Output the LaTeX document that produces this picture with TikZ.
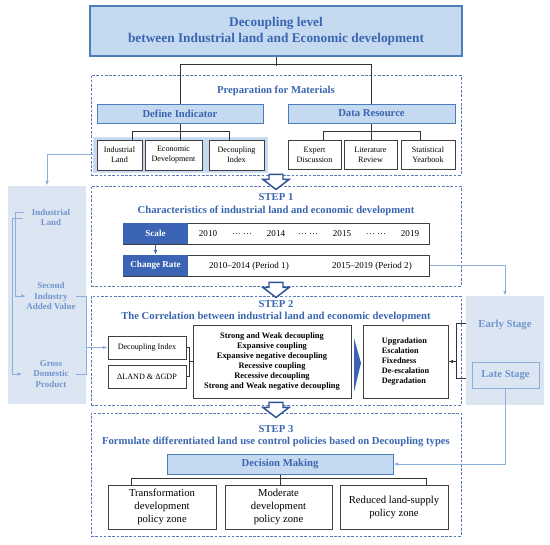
\documentclass[tikz,border=0pt]{standalone}
\usepackage{fontspec}
\setmainfont{Liberation Serif}
\usetikzlibrary{calc,arrows.meta}

\definecolor{titleFill}{RGB}{197,217,241}
\definecolor{titleLine}{RGB}{74,126,187}
\definecolor{headBlue}{RGB}{58,102,176}
\definecolor{barBlue}{RGB}{59,101,180}
\definecolor{arrowBlue}{RGB}{47,84,150}
\definecolor{panelFill}{RGB}{220,230,242}
\definecolor{panelText}{RGB}{112,148,206}
\definecolor{linkBlue}{RGB}{141,175,222}
\definecolor{dashBlue}{RGB}{90,124,182}

\tikzset{every picture/.style={line width=0.75pt}}
\tikzset{
  sz/.style 2 args={minimum width=#1*0.75pt, minimum height=#2*0.75pt},
  stepbox/.style={draw=dashBlue, dash pattern=on 2pt off 1.2pt, line width=0.7pt, inner sep=0pt},
  headbox/.style={draw=titleLine, fill=titleFill, text=headBlue, font=\bfseries\fontsize{8}{9.6}\selectfont, inner sep=0pt},
  itembox/.style={draw=black!75, fill=white, inner sep=0pt, align=center, font=\fontsize{6.1}{7.5}\selectfont},
  headtxt/.style={text=headBlue, font=\bfseries\fontsize{8}{9.6}\selectfont, inner sep=0pt},
  bartag/.style={fill=barBlue, text=white, font=\bfseries\fontsize{6.8}{8}\selectfont, inner sep=0pt},
  yeartxt/.style={font=\fontsize{6.8}{8}\selectfont, inner sep=0pt},
  paneltxt/.style={text=panelText, font=\bfseries\fontsize{6.7}{8}\selectfont, align=center, inner sep=0pt},
  link/.style={draw=linkBlue, line width=0.6pt},
  fork/.style={draw=black!80, line width=0.75pt},
  tip/.style={-{Latex[length=3.5pt,width=2.8pt]}},
  hollow arrow/.pic={
    \draw[draw=arrowBlue, fill=white, line width=1.1pt] (-7,1) -- (7,1) -- (7,-4) -- (13,-4) -- (0,-14) -- (-13,-4) -- (-7,-4) -- cycle;
  }
}

\begin{document}
\begin{tikzpicture}[x=0.75pt,y=0.75pt,yscale=-1,xscale=1]
\useasboundingbox (0,0) rectangle (550,544);

%Side panels
\node[fill=panelFill, sz={78}{218}, inner sep=0pt] (lpanel) at (47,295) {};
\node[fill=panelFill, sz={78}{109}, inner sep=0pt] (rpanel) at (505,350.5) {};

%Title
\node[draw=titleLine, fill=titleFill, line width=1pt, sz={372}{50}, inner sep=0pt, align=center,
      text=headBlue, font=\bfseries\fontsize{10}{12}\selectfont] (title) at (276,31)
      {Decoupling level\\between Industrial land and Economic development};

%Dashed step frames
\node[stepbox, sz={370}{100}] (prep) at (276,125) {};
\node[stepbox, sz={370}{100}] (step1) at (276,236) {};
\node[stepbox, sz={370}{109}] (step2) at (276,350.5) {};
\node[stepbox, sz={370}{123}] (step3) at (276,474.5) {};

%Hollow arrows between steps
\pic at (prep.south) {hollow arrow};
\pic at ($(step1.south)+(0,-3)$) {hollow arrow};
\pic at ($(step2.south)+(0,-2)$) {hollow arrow};

% Preparation for Materials
\node[headtxt] (preplab) at (276,91) {Preparation for Materials};
\node[headbox, sz={166}{19}] (defind) at (180,113.5) {Define Indicator};
\node[headbox, sz={167}{19}] (datares) at (371.5,113.5) {Data Resource};

\node[fill=titleFill, draw=titleFill!80!white, sz={174}{35}, inner sep=0pt] (hl) at (180,154.5) {};
\node[itembox, sz={45}{30}] (il) at (119.5,155) {Industrial\\Land};
\node[itembox, sz={57}{30}] (ed) at (173.5,155) {Economic\\Development};
\node[itembox, sz={55}{30}] (dix) at (236.5,155) {Decoupling\\Index};

\node[itembox, sz={53}{29}] (exp) at (314.5,154.5) {Expert\\Discussion};
\node[itembox, sz={53}{29}] (lit) at (370.5,154.5) {Literature\\Review};
\node[itembox, sz={54}{29}] (stat) at (428,154.5) {Statistical\\Yearbook};

%Forks
\draw[fork] (title.south) -- ++(0,9);
\draw[fork] (defind.north) -- ++(0,-39) -| (datares.north);
\draw[fork] (defind.south) -- (defind.south |- ed.north);
\draw[fork] ($(il.north)+(12.5,0)$) -- ++(0,-8) -| ($(dix.north)+(-7.5,0)$);
\draw[fork] (datares.south) -- (datares.south |- lit.north);
\draw[fork] ($(exp.north)+(8.5,0)$) -- ++(0,-8) -| ($(stat.north)+(-8,0)$);

% STEP 1
\node[headtxt] (s1a) at (276,197) {STEP 1};
\node[headtxt] (s1b) at (276,211) {Characteristics of industrial land and economic development};
\node[draw=black!75, sz={306}{21}, inner sep=0pt] (scalebar) at (276,233.5) {};
\node[bartag, sz={65}{21}] (scale) at (155.5,233.5) {Scale};
\node[yeartxt] (y1) at (208,234) {2010};
\node[yeartxt] (d1) at (242,234) {… …};
\node[yeartxt] (y2) at (276,234) {2014};
\node[yeartxt] (d2) at (308,234) {… …};
\node[yeartxt] (y3) at (342,234) {2015};
\node[yeartxt] (d3) at (376,234) {… …};
\node[yeartxt] (y4) at (410,234) {2019};

\node[draw=black!75, sz={306}{21}, inner sep=0pt] (rate) at (276,265.5) {};
\node[bartag, sz={65}{21}] (ratetag) at (155.5,265.5) {Change Rate};
\node[yeartxt] (p1) at (249,266) {2010–2014 (Period 1)};
\node[yeartxt] (p2) at (372,266) {2015–2019 (Period 2)};
\draw[draw=barBlue, line width=0.8pt, tip] (scale.south) -- (ratetag.north);

% STEP 2
\node[headtxt] (s2a) at (276,304) {STEP 2};
\node[headtxt] (s2b) at (276,317) {The Correlation between industrial land and economic development};
\node[itembox, sz={78}{23}] (dix2) at (147,347.5) {Decoupling Index};
\node[itembox, sz={78}{23}] (dland) at (147,376.5) {ΔLAND \& ΔGDP};
\node[itembox, sz={158}{73}, font=\bfseries\fontsize{6.3}{7.5}\selectfont] (types) at (272,361.5)
  {Strong and Weak decoupling\\Expansive coupling\\Expansive negative decoupling\\Recessive coupling\\Recessive decoupling\\Strong and Weak negative decoupling};
\fill[barBlue] (354,338) -- (361,363) -- (354,392) -- cycle;
\node[itembox, sz={85}{73}, align=left, font=\bfseries\fontsize{6.2}{7.5}\selectfont] (upg) at (405.5,361.5)
  {Upgradation\\Escalation\\Fixedness\\De-escalation\\Degradation};
\draw[fork] (dix2.east) -- ++(3,0) |- (dland.east);
\draw[fork] (types.west) -- ++(-4,0);

% STEP 3
\node[headtxt] (s3a) at (276,429) {STEP 3};
\node[headtxt] (s3b) at (276,442) {Formulate differentiated land use control policies based on Decoupling types};
\node[headbox, sz={226}{20}] (dm) at (280,464) {Decision Making};
\node[itembox, sz={108}{44}, font=\fontsize{8}{9.75}\selectfont] (tz) at (162,507) {Transformation\\development\\policy zone};
\node[itembox, sz={107}{44}, font=\fontsize{8}{9.75}\selectfont] (mz) at (278.5,507) {Moderate\\development\\policy zone};
\node[itembox, sz={108}{44}, font=\fontsize{8}{9.75}\selectfont] (rz) at (394,507) {Reduced land-supply\\policy zone};
\draw[fork] (dm.south) -- (dm.south |- mz.north);
\draw[fork] ($(tz.north)+(-31,0)$) -- ++(0,-6) -| ($(rz.north)+(32,0)$);

% Left panel
\node[paneltxt] (il2) at (51,217.5) {Industrial\\Land};
\node[paneltxt] (sv) at (51,296) {Second\\Industry\\Added Value};
\node[paneltxt] (gdp) at (51,374) {Gross\\Domestic\\Product};
\coordinate (ilA) at (24,212);
\coordinate (ilB) at (23,218);
\draw[link, tip] (hl.west) -| (lpanel.north);
\draw[link, tip] (ilA) -- ++(-9,0) |- (sv.west);
\draw[link, tip] (ilB) -- ++(-11,0) |- ([xshift=-8pt]gdp.west);
\draw[link] (sv.east) -- ++(10,0) coordinate (lb) |- (gdp.east -| sv.east);
\draw[link, tip] (dix2.west -| lb) -- (dix2.west);

% Right panel
\node[paneltxt, font=\bfseries\fontsize{8}{9.6}\selectfont] (early) at (505,325) {Early Stage};
\node[paneltxt, draw=linkBlue, sz={67}{26}, font=\bfseries\fontsize{8}{9.6}\selectfont] (late) at (505.5,375) {Late Stage};
\draw[link, tip] (rate.east) -| (rpanel.north);
\draw[fork] ($(rpanel.north west)+(0,28)$) -- ++(-9,0) coordinate (rb) |- ($(rpanel.north west)+(0,83)$);
\draw[fork, tip] (upg.east -| rb) -- (upg.east);
\draw[link, tip] (late.south) |- (dm.east);

\end{tikzpicture}
\end{document}
